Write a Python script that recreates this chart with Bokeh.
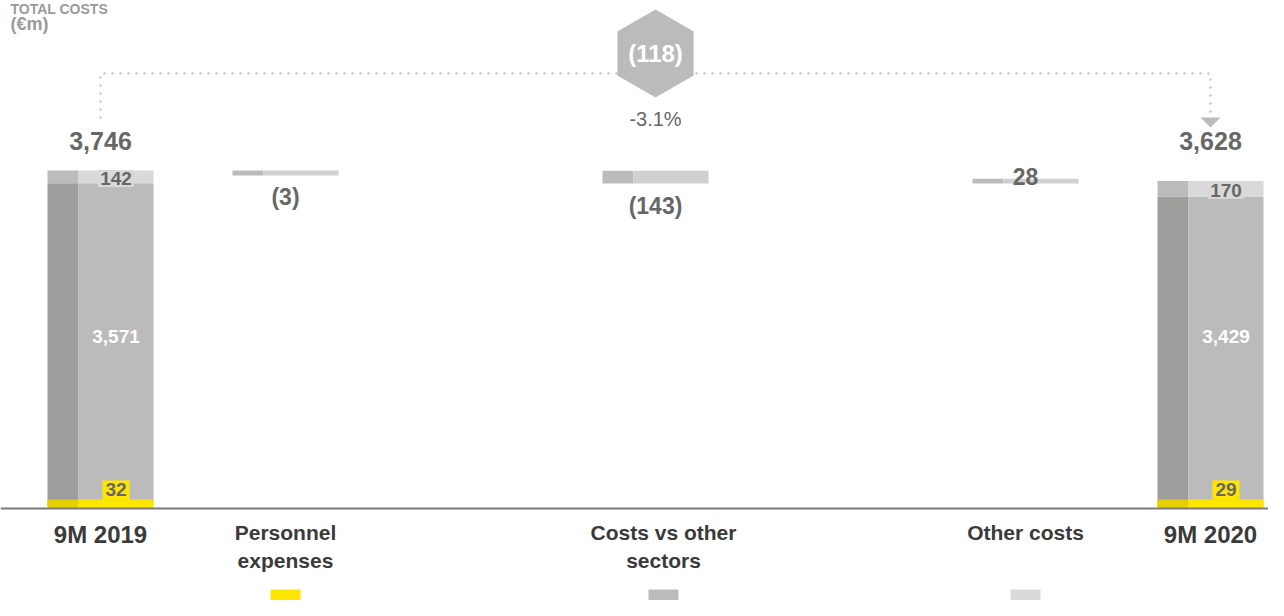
import math
from bokeh.plotting import figure
from bokeh.models import Span, Range1d
from bokeh.core.properties import value
from bokeh.embed import file_html
from bokeh.resources import INLINE

# ---------------- data ----------------
title_text = "TOTAL COSTS"
unit_label = "(€m)"
categories = ["9M 2019", "Personnel expenses", "Costs vs other sectors", "Other costs", "9M 2020"]
category_lines = ["9M 2019", "Personnel\nexpenses", "Costs vs other\nsectors", "Other costs", "9M 2020"]
components = ["Personnel expenses", "Costs vs other sectors", "Other costs"]
start_values = [32, 3571, 142]      # 9M 2019 split
end_values = [29, 3429, 170]        # 9M 2020 split
start_total = 3746
end_total = 3628
delta_values = [-3, -143, 28]
delta_labels = ["(3)", "(143)", "28"]
total_labels = ["3,746", "3,628"]
start_value_labels = ["32", "3,571", "142"]
end_value_labels = ["29", "3,429", "170"]
change_label = "(118)"
change_pct = "-3.1%"

# ---------------- layout / style ----------------
W, H = 1268, 600
PX_X = 185.0            # px per slot
X0_PX = 100.0           # canvas x of first slot centre
slots = [0, 1, 3, 5, 6]
label_shift = [0, 0, 8 / 185.0, 0, 0]   # small horizontal offsets of category labels
U = 11.08               # data units per px (vertical)
BASE_PX = 508           # canvas y (from top) of the baseline
BAR_W = 106 / PX_X
FACE_W = 31 / PX_X
MIN_SEG = 100           # minimum visible height for thin segments
MIN_FLOAT = 55

FONT = "Liberation Sans"
VAL_COL = "#676767"
CAT_COL = "#3a3a3a"
DARK = {"Personnel expenses": "#e6cf00", "Costs vs other sectors": "#9d9d9b", "Other costs": "#bbbbbb"}
LIGHT = {"Personnel expenses": "#ffe600", "Costs vs other sectors": "#bbbbbb", "Other costs": "#d9d9d9"}
FLOAT_DARK = "#bbbbbb"
FLOAT_LIGHT = "#d0d0d0"
BRACKET_COL = "#bbbbbb"

x_range = Range1d(-X0_PX / PX_X, (W - X0_PX) / PX_X)
y_range = Range1d(-(H - BASE_PX) * U, BASE_PX * U)

p = figure(width=W, height=H, x_range=x_range, y_range=y_range,
           output_backend="svg", toolbar_location=None,
           x_axis_location=None, y_axis_location=None, min_border=0)
p.outline_line_color = None
p.xgrid.visible = False
p.ygrid.visible = False
p.background_fill_color = "white"


def face_quads(cx, bottom, top, dark, light):
    left = cx - BAR_W / 2
    split = left + FACE_W
    right = cx + BAR_W / 2
    p.quad(left=[left], right=[split], bottom=[bottom], top=[top],
           fill_color=dark, line_color=None)
    p.quad(left=[split], right=[right], bottom=[bottom], top=[top],
           fill_color=light, line_color=None)


def txt(x, y, s, size, color, bold=True, align="center", baseline="middle", **kw):
    p.text(x=[x], y=[y], text=[s], text_font=value(FONT),
           text_font_size=f"{size}px", text_color=color,
           text_font_style="bold" if bold else "normal",
           text_align=align, text_baseline=baseline, **kw)


max_total = max(start_total, end_total)
mid_label_y = 0.51 * max_total

# ---- total bars ----
for slot, vals, labels in ((slots[0], start_values, start_value_labels),
                           (slots[4], end_values, end_value_labels)):
    cum = [0]
    for v in vals:
        cum.append(cum[-1] + v)
    rx = slot - BAR_W / 2 + FACE_W + (BAR_W - FACE_W) / 2
    for i in (1, 2):
        face_quads(slot, cum[i], cum[i + 1], DARK[components[i]], LIGHT[components[i]])
    ytop = max(vals[0], MIN_SEG)
    face_quads(slot, 0, ytop, DARK[components[0]], LIGHT[components[0]])
    txt(rx, ytop + 9.5 * U, labels[0], 19, VAL_COL,
        background_fill_color=LIGHT[components[0]], padding=3)
    txt(rx, mid_label_y, labels[1], 19, "white")
    txt(rx, (cum[2] + cum[3]) / 2 - 1.5 * U, labels[2], 19, VAL_COL,
        background_fill_color=LIGHT[components[2]], padding=2)

total_label_y = max_total + 29 * U
txt(slots[0], total_label_y, total_labels[0], 25, VAL_COL)
txt(slots[4], total_label_y, total_labels[1], 25, VAL_COL)

# ---- floating delta bars ----
running = start_total
for k, d in enumerate(delta_values):
    lo, hi = sorted((running, running + d))
    if hi - lo < MIN_FLOAT:
        if d < 0:
            lo = hi - MIN_FLOAT
        else:
            hi = lo + MIN_FLOAT
    cx = slots[k + 1]
    face_quads(cx, lo, hi, FLOAT_DARK, FLOAT_LIGHT)
    if d < 0:
        txt(cx, lo - 22 * U, delta_labels[k], 23, VAL_COL)
    else:
        txt(cx, hi + 2 * U, delta_labels[k], 23, VAL_COL, baseline="alphabetic")
    running += d

# ---- bracket with change ----
bracket_low = max_total + 52 * U
bracket_high = max_total + 97 * U
arrow_top = max_total + 53 * U
arrow_h = 10 * U
arrow_hw = 10 / PX_X
p.line(x=[slots[0], slots[0], slots[4], slots[4]],
       y=[bracket_low, bracket_high, bracket_high, arrow_top + 4 * U],
       line_color=BRACKET_COL, line_width=2, line_dash="2 6")
p.patch(x=[slots[4] - arrow_hw, slots[4] + arrow_hw, slots[4]],
        y=[arrow_top, arrow_top, arrow_top - arrow_h],
        fill_color=BRACKET_COL, line_color=None)

hex_x = (slots[0] + slots[4]) / 2
hex_y = bracket_high + 20 * U
p.scatter(x=[hex_x], y=[hex_y], marker="hex", size=88, angle=math.pi / 2,
          fill_color="#bbbbbb", line_color=None)
txt(hex_x, hex_y, change_label, 24, "white")
txt(hex_x, bracket_low - 1 * U, change_pct, 20, VAL_COL, bold=False)

# ---- baseline ----
p.add_layout(Span(location=0, dimension="width", line_color="#7a7a7a", line_width=2))

# ---- category labels ----
for slot, dx, lab in zip(slots, label_shift, category_lines):
    size = 24 if lab.startswith("9M") else 21
    p.text(x=[slot + dx], y=[-12 * U], text=[lab], text_font=value(FONT),
           text_font_size=f"{size}px", text_color=CAT_COL, text_font_style="bold",
           text_align="center", text_baseline="top", text_line_height=1.25)

# ---- legend squares ----
for k, comp in enumerate(components):
    p.scatter(x=[slots[k + 1] + label_shift[k + 1]], y=[-96 * U], marker="square", size=30,
              fill_color=LIGHT[comp], line_color=None)

# ---- title & unit ----
left_x = x_range.start + 10 / PX_X
txt(left_x, BASE_PX * U - 0 * U, title_text, 14, "#9a9a9a",
    align="left", baseline="top")
txt(left_x, BASE_PX * U - 13 * U, unit_label, 18, "#9a9a9a",
    align="left", baseline="top")

open("out.html", "w").write(file_html(p, INLINE))
